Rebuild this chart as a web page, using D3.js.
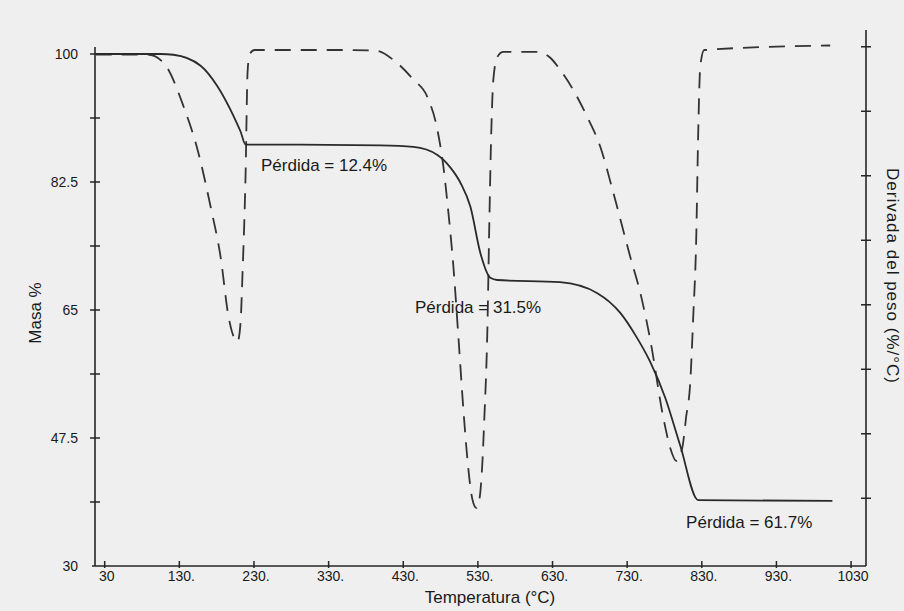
<!DOCTYPE html>
<html>
<head>
<meta charset="utf-8">
<script src="https://cdn.jsdelivr.net/npm/d3@7"></script>
<style>
  html, body { margin: 0; padding: 0; background: #efefef; }
  svg { display: block; }
  text { font-family: "Liberation Sans", Arial, sans-serif; fill: #1a1a1a; }
</style>
</head>
<body>
<svg id="chart" width="904" height="611"></svg>
<script>
// ---- data ----
// Mass curve (solid): temperature (°C) and mass (%)
const massTemp = [18, 105, 122, 158.5, 181, 202.7, 212, 218.8, 292, 399.5, 443.6, 475.8, 493, 506.6, 520, 533.3, 546.7, 556, 640, 690, 720.8, 740.8, 760.9, 781, 801, 825.2, 1005];
const massValue = [100, 100, 99.9, 98.4, 95.6, 91.5, 89.4, 87.6, 87.6, 87.5, 87.3, 86.2, 84.5, 82.4, 79.1, 72.8, 69.4, 69.1, 68.8, 67.3, 64.6, 61.6, 57.9, 53.0, 46.5, 39.0, 38.9];

// Derivative curve (dashed): temperature (°C) and derivative (arbitrary units on right axis)
const derivTemp = [18, 87.6, 109, 135.8, 154.5, 171.9, 185.3, 196, 208, 212, 214.7, 218.8, 221.4, 224, 230.8, 346, 392.8, 419.6, 443.7, 462.4, 475.8, 483.8, 490.5, 497.2, 503.9, 510.6, 516, 522.7, 528, 532, 536, 538.7, 542.7, 545.4, 548, 550.7, 556, 564, 609.6, 627, 640.4, 657.8, 676.6, 694, 711.4, 734.2, 747.5, 760.9, 778.3, 787.7, 795.7, 803.8, 809, 814.5, 818.5, 822.5, 825.2, 827.9, 833.2, 1002];
const derivValue = [-0.12, -0.12, -0.25, -0.93, -1.60, -2.48, -3.26, -4.19, -4.57, -4.28, -3.50, -1.95, -0.40, -0.12, -0.05, -0.05, -0.06, -0.23, -0.51, -0.78, -1.29, -1.86, -2.57, -3.41, -4.50, -5.63, -6.40, -7.02, -7.15, -7.02, -6.45, -5.74, -4.39, -2.68, -1.29, -0.51, -0.16, -0.08, -0.08, -0.17, -0.36, -0.67, -1.09, -1.55, -2.26, -3.26, -3.81, -4.54, -5.74, -6.22, -6.42, -6.22, -5.74, -5.21, -4.19, -2.99, -1.33, -0.31, -0.05, 0.02];

// Axis ticks
const xTickValues = [30, 130, 230, 330, 430, 530, 630, 730, 830, 930, 1030];
const xTickLabels = ["30", "130.", "230.", "330.", "430.", "530.", "630.", "730.", "830.", "930.", "1030"];
const yTickValues = [100, 91.25, 82.5, 73.75, 65, 56.25, 47.5, 38.75];
const yLabelValues = [100, 82.5, 65, 47.5, 30];
const yLabelTexts = ["100", "82.5", "65", "47.5", "30"];
const rTickValues = [0, -1, -2, -3, -4, -5, -6, -7];

// Annotations
const annotTemp = [239.4, 445.7, 809];
const annotMass = [84.0, 64.6, 35.2];
const annotText = ["Pérdida = 12.4%", "Pérdida = 31.5%", "Pérdida = 61.7%"];

// ---- drawing ----
(function () {
const svg = d3.select("#chart");
const pL = 95, pR = 866, pT = 47, pB = 566;

const x = d3.scaleLinear().domain([17, 1050]).range([pL, pR]);
const yL = d3.scaleLinear().domain([30, 100]).range([pB, 54]);
const yR = d3.scaleLinear().domain([-8.05, 0.26]).range([pB, 30]);

const ink = "#262626";

// axes lines
svg.append("line").attr("x1", pL).attr("x2", pL).attr("y1", pT).attr("y2", pB)
  .attr("stroke", ink).attr("stroke-width", 1.6);
svg.append("line").attr("x1", pL - 3).attr("x2", pR).attr("y1", pB).attr("y2", pB)
  .attr("stroke", ink).attr("stroke-width", 1.6);
svg.append("line").attr("x1", pR).attr("x2", pR).attr("y1", 30).attr("y2", pB)
  .attr("stroke", ink).attr("stroke-width", 1.6);

// left ticks (crosses)
svg.append("g").selectAll("line").data(yTickValues).join("line")
  .attr("x1", pL - 5).attr("x2", pL + 5)
  .attr("y1", d => yL(d)).attr("y2", d => yL(d))
  .attr("stroke", ink).attr("stroke-width", 1.5);

svg.append("g").selectAll("text").data(yLabelValues).join("text")
  .attr("x", 78).attr("y", d => yL(d))
  .attr("dy", "0.35em").attr("text-anchor", "end")
  .attr("font-size", 14)
  .text((d, i) => yLabelTexts[i]);

// right ticks (crosses)
svg.append("g").selectAll("line").data(rTickValues).join("line")
  .attr("x1", pR - 5).attr("x2", pR + 5)
  .attr("y1", d => yR(d)).attr("y2", d => yR(d))
  .attr("stroke", ink).attr("stroke-width", 1.5);

// bottom ticks
svg.append("g").selectAll("line").data(xTickValues).join("line")
  .attr("x1", d => x(d)).attr("x2", d => x(d))
  .attr("y1", pB - 5).attr("y2", pB + 2)
  .attr("stroke", ink).attr("stroke-width", 1.5);

svg.append("g").selectAll("text").data(xTickValues).join("text")
  .attr("x", d => x(d) + 2).attr("y", pB + 15)
  .attr("text-anchor", "middle").attr("font-size", 14)
  .text((d, i) => xTickLabels[i]);

// axis titles
svg.append("text").attr("x", 490).attr("y", 603).attr("text-anchor", "middle")
  .attr("font-size", 17).text("Temperatura (°C)");
svg.append("text").attr("transform", "translate(41,313) rotate(-90)")
  .attr("text-anchor", "middle").attr("font-size", 17).text("Masa %");
svg.append("text").attr("transform", "translate(887,276) rotate(90)")
  .attr("text-anchor", "middle").attr("font-size", 17).attr("letter-spacing", 1)
  .text("Derivada del peso (%/°C)");

// curves
const massData = massTemp.map((t, i) => [t, massValue[i]]);
const derivData = derivTemp.map((t, i) => [t, derivValue[i]]);

svg.append("path").datum(derivData)
  .attr("d", d3.line().x(d => x(d[0])).y(d => yR(d[1])).curve(d3.curveMonotoneX))
  .attr("fill", "none").attr("stroke", "#333").attr("stroke-width", 1.8)
  .attr("stroke-dasharray", "16,10");

svg.append("path").datum(massData)
  .attr("d", d3.line().x(d => x(d[0])).y(d => yL(d[1])).curve(d3.curveMonotoneX))
  .attr("fill", "none").attr("stroke", "#2a2a2a").attr("stroke-width", 1.8);

// annotations
svg.append("g").selectAll("text").data(annotText).join("text")
  .attr("x", (d, i) => x(annotTemp[i])).attr("y", (d, i) => yL(annotMass[i]))
  .attr("font-size", 17).text(d => d);
})();
</script>
</body>
</html>
